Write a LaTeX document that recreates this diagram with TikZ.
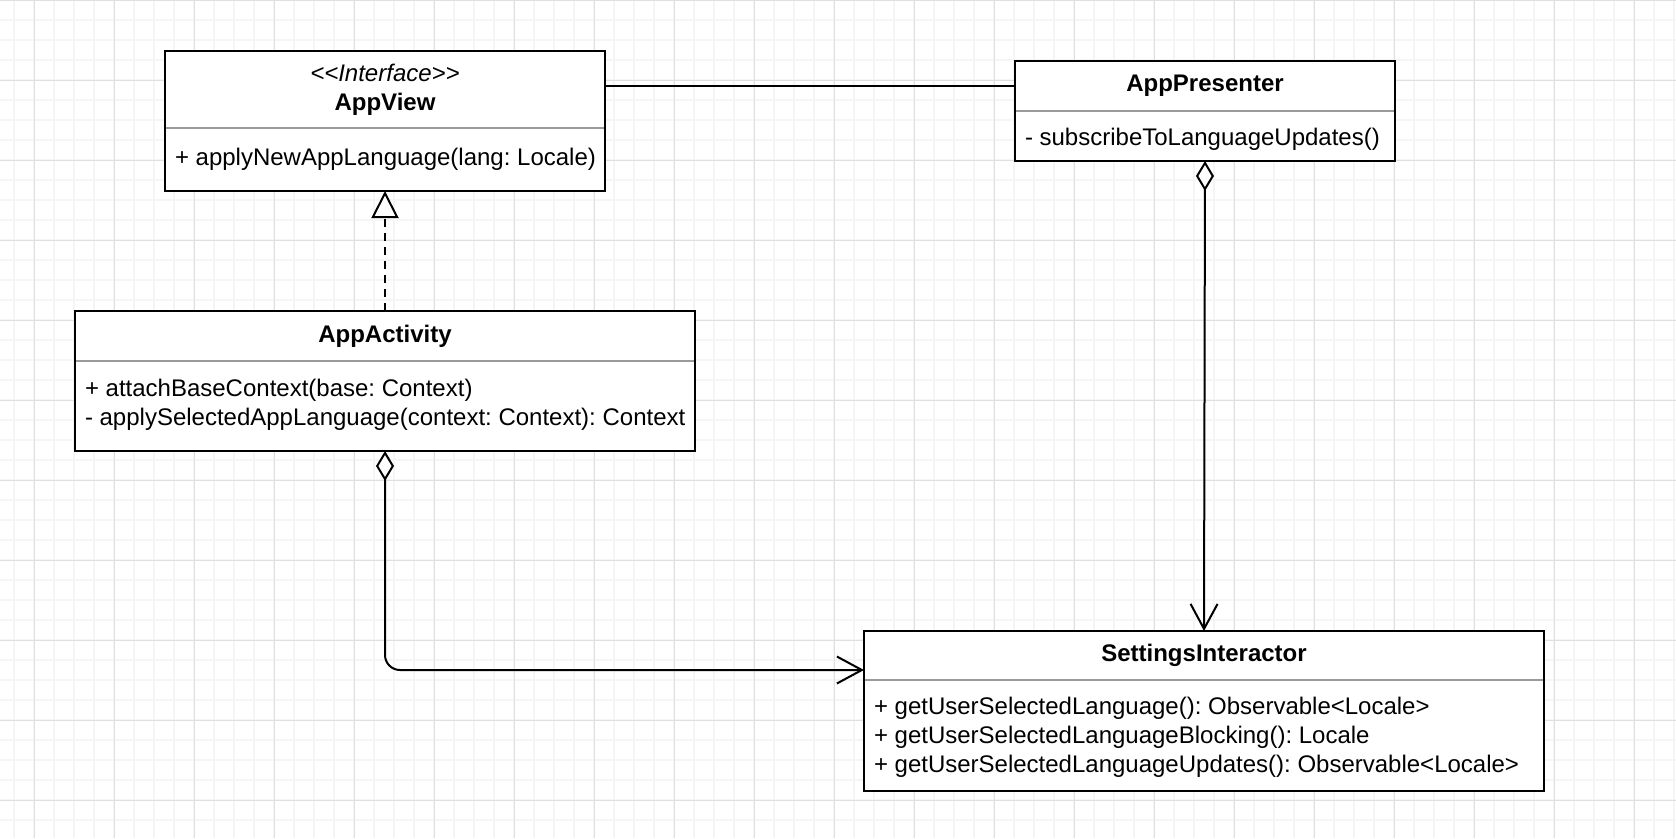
\documentclass[tikz,border=0pt]{standalone}
\usepackage{fontspec}
\setmainfont{Liberation Sans}
\usetikzlibrary{positioning,arrows.meta}
\definecolor{gridminor}{HTML}{F5F5F5}
\definecolor{gridmajor}{HTML}{E0E0E0}
\definecolor{sepgray}{HTML}{9A9A9A}

\begin{document}
\frenchspacing
\begin{tikzpicture}[x=1pt,y=-1pt,
    classhead/.style={fill=white, inner sep=0pt, outer sep=0pt, align=center,
      font=\fontsize{24}{28.8}\selectfont\bfseries},
    classbody/.style={fill=white, inner sep=0pt, outer sep=0pt},
    opstext/.style={inner sep=0pt, outer sep=0pt, align=left,
      font=\fontsize{24}{28.8}\selectfont},
    umlline/.style={line width=2pt},
    sepline/.style={line width=2pt, draw=sepgray},
    aggrvee/.style={{Diamond[fill=white, length=30pt, width=18pt]}-{Straight Barb[length=25pt, width=27pt]}},
  ]
        \useasboundingbox (0,0) rectangle (1676,838);
        % background grid
        \foreach \x in {14,34,...,1674}
            \draw[gridminor, line width=1.2pt] (\x,0)--(\x,838);
        \foreach \y in {20,40,...,838}
            \draw[gridminor, line width=1.2pt] (0,\y)--(1676,\y);
        \foreach \x in {34,114,...,1674}
            \draw[gridmajor, line width=0.8pt] (\x,0)--(\x,838);
        \foreach \y in {0,80,...,838}
            \draw[gridmajor, line width=0.8pt] (0,\y)--(1676,\y);

        % AppView
        \node[classhead, minimum width=440pt, minimum height=77pt, anchor=north west] (viewhead) at (165,51)
            {\textmd{\itshape <{}<Interface>{}>}\\AppView};
        \node[classbody, minimum width=440pt, minimum height=63pt, below=0pt of viewhead] (viewbody) {};
        \node[opstext, right=10pt of viewbody.west] (viewops) {+ applyNewAppLanguage(lang: Locale)};
        \draw[sepline] (viewhead.south west)--(viewhead.south east);
        \draw[umlline] (viewhead.north west) rectangle (viewbody.south east);

        % AppPresenter
        \node[classhead, minimum width=380pt, minimum height=50pt, anchor=north west] (preshead) at (1015,61) {AppPresenter};
        \node[classbody, minimum width=380pt, minimum height=50pt, below=0pt of preshead] (presbody) {};
        \node[opstext, right=10pt of presbody.west, yshift=-3pt] (presops) {- subscribeToLanguageUpdates()};
        \draw[sepline] (preshead.south west)--(preshead.south east);
        \draw[umlline] (preshead.north west) rectangle (presbody.south east);

        % AppActivity
        \node[classhead, minimum width=620pt, minimum height=50pt, anchor=north west] (acthead) at (75,311) {AppActivity};
        \node[classbody, minimum width=620pt, minimum height=90pt, below=0pt of acthead] (actbody) {};
        \node[opstext, right=10pt of actbody.west, yshift=1pt] (actops)
            {+ attachBaseContext(base: Context)\\- applySelectedAppLanguage(context: Context): Context};
        \draw[sepline] (acthead.south west)--(acthead.south east);
        \draw[umlline] (acthead.north west) rectangle (actbody.south east);

        % SettingsInteractor
        \node[classhead, minimum width=680pt, minimum height=49pt, anchor=north west] (sethead) at (864,631) {SettingsInteractor};
        \node[classbody, minimum width=680pt, minimum height=111pt, below=0pt of sethead] (setbody) {};
        \node[opstext, right=10pt of setbody.west, yshift=-2pt] (setops)
            {+ getUserSelectedLanguage(): Observable<Locale>\\
             + getUserSelectedLanguageBlocking(): Locale\\
             + getUserSelectedLanguageUpdates(): Observable<Locale>};
        \draw[sepline] (sethead.south west)--(sethead.south east);
        \draw[umlline] (sethead.north west) rectangle (setbody.south east);

        % relations
        \draw[umlline] (preshead.west -| viewhead.east)--(preshead.west);
        \draw[umlline, dash pattern=on 8pt off 6pt, -{Triangle[fill=white, length=27pt, width=27pt]}]
            (acthead.north)--(viewbody.south);
        \draw[umlline, aggrvee] (presbody.south)--(sethead.north);
        \draw[umlline, aggrvee, rounded corners=15pt]
            (actbody.south) |- ([yshift=10pt]sethead.south west);
    \end{tikzpicture}
\end{document}
